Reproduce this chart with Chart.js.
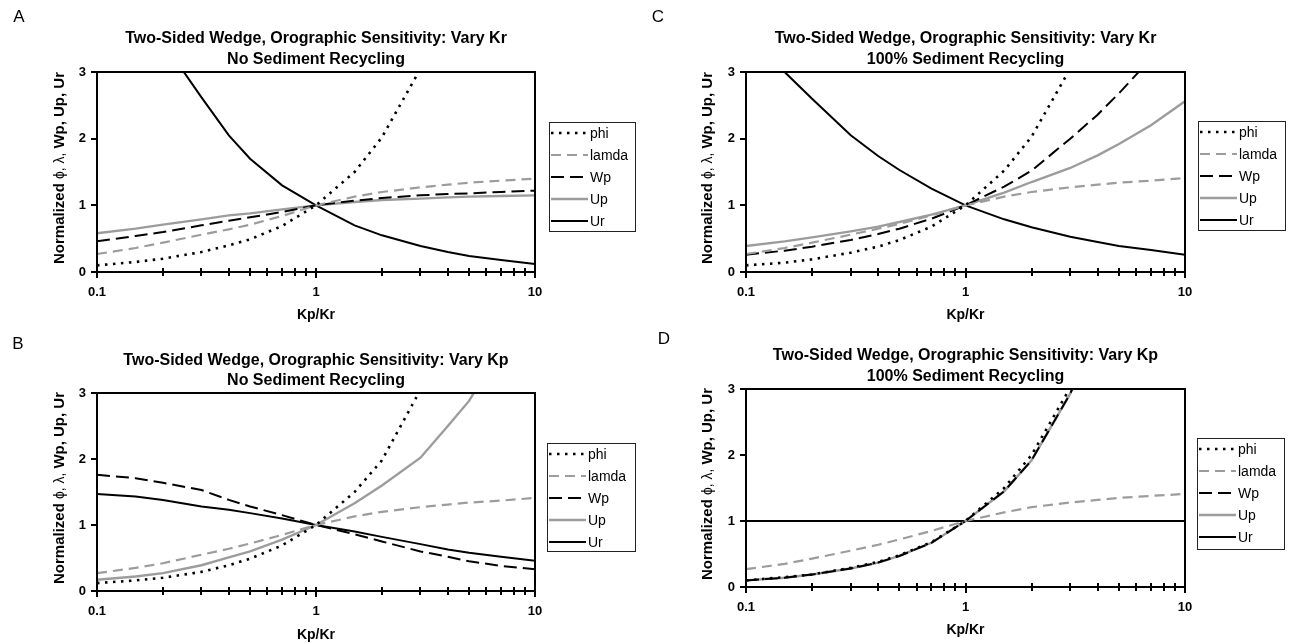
<!DOCTYPE html>
<html>
<head>
<meta charset="utf-8">
<script src="https://cdn.jsdelivr.net/npm/chart.js@4.4.1/dist/chart.umd.min.js"></script>
<style>
  html, body { margin: 0; padding: 0; background: #fff; }
  #wrap { position: relative; width: 1291px; height: 644px; }
  #wrap canvas { position: absolute; left: 0; top: 0; }
</style>
</head>
<body>
<div id="wrap">
  <canvas id="chartA" width="1291" height="644"></canvas>
  <canvas id="chartB" width="1291" height="644"></canvas>
  <canvas id="chartC" width="1291" height="644"></canvas>
  <canvas id="chartD" width="1291" height="644"></canvas>
</div>
<script>
// Kp/Kr sample points shared by every panel
const kpkr = [0.1, 0.15, 0.2, 0.3, 0.4, 0.5, 0.7, 1, 1.5, 2, 3, 4, 5, 7, 10];

// axis ticks
const xTicks = [0.1, 0.2, 0.3, 0.4, 0.5, 0.6, 0.7, 0.8, 0.9, 1, 2, 3, 4, 5, 6, 7, 8, 9, 10];
const xLabels = [0.1, 1, 10];
const yTicks = [0, 1, 2, 3];

const seriesNames = ['phi', 'lamda', 'Wp', 'Up', 'Ur'];

// A: vary Kr, no sediment recycling
const phiA = [0.10, 0.15, 0.20, 0.30, 0.40, 0.49, 0.69, 1.00, 1.50, 2.02, 3.05, 4.1, 5.1, 7.1, 10.2];
const lamA = [0.27, 0.36, 0.44, 0.56, 0.64, 0.71, 0.84, 1.00, 1.13, 1.20, 1.27, 1.31, 1.34, 1.37, 1.40];
const wpA  = [0.46, 0.54, 0.60, 0.70, 0.77, 0.82, 0.90, 1.00, 1.07, 1.11, 1.15, 1.17, 1.18, 1.20, 1.22];
const upA  = [0.58, 0.65, 0.71, 0.79, 0.85, 0.88, 0.94, 1.00, 1.05, 1.08, 1.10, 1.12, 1.13, 1.14, 1.15];
const urA  = [5.6, 4.2, 3.45, 2.62, 2.05, 1.70, 1.30, 1.00, 0.70, 0.55, 0.39, 0.30, 0.24, 0.18, 0.12];

// B: vary Kp, no sediment recycling
const phiB = [0.12, 0.16, 0.20, 0.29, 0.39, 0.49, 0.69, 1.00, 1.50, 1.98, 3.05, 4.1, 5.1, 7.1, 10.2];
const lamB = [0.27, 0.35, 0.42, 0.55, 0.64, 0.72, 0.85, 1.00, 1.13, 1.20, 1.27, 1.31, 1.34, 1.37, 1.41];
const wpB  = [1.76, 1.71, 1.64, 1.53, 1.38, 1.28, 1.15, 1.00, 0.86, 0.75, 0.60, 0.52, 0.45, 0.38, 0.33];
const upB  = [0.17, 0.22, 0.27, 0.39, 0.51, 0.60, 0.78, 1.00, 1.33, 1.60, 2.02, 2.50, 2.88, 3.7, 4.9];
const urB  = [1.47, 1.43, 1.38, 1.28, 1.23, 1.18, 1.10, 1.00, 0.90, 0.82, 0.71, 0.63, 0.58, 0.52, 0.46];

// C: vary Kr, 100% sediment recycling
const phiC = [0.10, 0.14, 0.19, 0.29, 0.38, 0.48, 0.68, 1.00, 1.52, 2.03, 3.05, 4.1, 5.1, 7.1, 10.2];
const lamC = [0.27, 0.36, 0.44, 0.56, 0.65, 0.72, 0.85, 1.00, 1.13, 1.20, 1.27, 1.31, 1.34, 1.37, 1.41];
const wpC  = [0.26, 0.32, 0.38, 0.48, 0.57, 0.65, 0.80, 1.00, 1.28, 1.52, 2.00, 2.36, 2.68, 3.2, 4.0];
const upC  = [0.39, 0.46, 0.52, 0.61, 0.68, 0.75, 0.86, 1.00, 1.19, 1.35, 1.56, 1.75, 1.92, 2.20, 2.56];
const urC  = [3.9, 3.0, 2.6, 2.05, 1.74, 1.53, 1.25, 1.00, 0.79, 0.67, 0.53, 0.45, 0.39, 0.33, 0.26];

// D: vary Kp, 100% sediment recycling
const phiD = [0.10, 0.15, 0.19, 0.29, 0.38, 0.48, 0.68, 1.00, 1.50, 2.00, 3.02, 4.0, 5.0, 7.0, 10.0];
const lamD = [0.27, 0.35, 0.43, 0.55, 0.64, 0.72, 0.85, 1.00, 1.13, 1.21, 1.28, 1.32, 1.35, 1.38, 1.41];
const wpD  = [0.10, 0.14, 0.19, 0.28, 0.37, 0.47, 0.67, 1.00, 1.45, 1.92, 2.93, 3.9, 4.9, 6.9, 9.8];
const upD  = [0.10, 0.14, 0.19, 0.28, 0.37, 0.47, 0.67, 1.00, 1.45, 1.92, 2.93, 3.9, 4.9, 6.9, 9.8];
const urD  = [1, 1, 1, 1, 1, 1, 1, 1, 1, 1, 1, 1, 1, 1, 1];

const FONT = '"Liberation Sans", Arial, sans-serif';
const GREY = '#9c9c9c';

// line looks, in series order
const looks = [
  { color: '#000', width: 2.6, dash: [2.5, 5.5] },
  { color: GREY,   width: 2.2, dash: [10, 6] },
  { color: '#000', width: 2,   dash: [13, 6] },
  { color: GREY,   width: 2.4, dash: [] },
  { color: '#000', width: 2,   dash: [] }
];

// frame, tick marks, titles and the boxed legend
const decor = {
  id: 'decor',
  afterDatasetsDraw(chart, args, o) {
    const { ctx, chartArea: a } = chart;
    const xs = chart.scales.x, ys = chart.scales.y;
    ctx.save();
    ctx.setLineDash([]);
    ctx.strokeStyle = '#000';
    ctx.lineWidth = 2;
    ctx.strokeRect(a.left, a.top, a.right - a.left, a.bottom - a.top);

    ctx.beginPath();
    xTicks.forEach(v => {
      const px = Math.round(xs.getPixelForValue(v));
      ctx.moveTo(px, a.bottom - 4);
      ctx.lineTo(px, a.bottom + (xLabels.includes(v) ? 6 : 4));
    });
    yTicks.forEach(v => {
      const py = Math.round(ys.getPixelForValue(v));
      ctx.moveTo(a.left - 6, py);
      ctx.lineTo(a.left, py);
    });
    ctx.stroke();

    const cx = (a.left + a.right) / 2;
    ctx.fillStyle = '#000';
    ctx.textAlign = 'center';
    ctx.textBaseline = 'middle';
    ctx.font = 'bold 16px ' + FONT;
    ctx.fillText(o.title[0], cx, o.titleY[0]);
    ctx.fillText(o.title[1], cx, o.titleY[1]);
    ctx.font = 'bold 14px ' + FONT;
    ctx.fillText('Kp/Kr', cx, o.xTitleY);
    ctx.font = '17px ' + FONT;
    ctx.fillText(o.letter, o.letterX, o.letterY);

    // rotated y title, greek letters in plain weight
    const parts = [['bold 15px ', 'Normalized '], ['14px ', '\u03D5, \u03BB, '], ['bold 15px ', 'Wp, Up, Ur']];
    ctx.save();
    ctx.translate(o.yTitleX, (a.top + a.bottom) / 2 - 4);
    ctx.rotate(-Math.PI / 2);
    ctx.textAlign = 'left';
    let total = 0;
    parts.forEach(p => { ctx.font = p[0] + FONT; total += ctx.measureText(p[1]).width; });
    let pos = -total / 2;
    parts.forEach(p => {
      ctx.font = p[0] + FONT;
      ctx.fillText(p[1], pos, 0);
      pos += ctx.measureText(p[1]).width;
    });
    ctx.restore();

    // legend
    const L = o.legend;
    ctx.lineWidth = 1;
    ctx.strokeStyle = '#222';
    ctx.fillStyle = '#fff';
    ctx.fillRect(L.x, L.y, L.w, L.h);
    ctx.strokeRect(L.x + 0.5, L.y + 0.5, L.w, L.h);
    ctx.font = '14px ' + FONT;
    ctx.textAlign = 'left';
    chart.data.datasets.forEach((ds, i) => {
      const y = L.y + 11 + i * 22;
      ctx.beginPath();
      ctx.strokeStyle = ds.borderColor;
      ctx.lineWidth = ds.borderWidth;
      ctx.setLineDash(ds.borderDash);
      ctx.moveTo(L.x + 2, y);
      ctx.lineTo(L.x + 39, y);
      ctx.stroke();
      ctx.setLineDash([]);
      ctx.fillStyle = '#000';
      ctx.fillText(ds.label, L.x + 41, y + 1);
    });
    ctx.restore();
  }
};

function makePanel(id, series, area, deco) {
  const datasets = series.map((vals, i) => ({
    label: seriesNames[i],
    data: kpkr.map((x, j) => ({ x: x, y: vals[j] })),
    borderColor: looks[i].color,
    borderWidth: looks[i].width,
    borderDash: looks[i].dash,
    pointRadius: 0,
    tension: 0,
    fill: false
  }));
  const tickFont = { family: FONT, size: 13, weight: 'bold' };
  new Chart(document.getElementById(id), {
    type: 'line',
    data: { datasets: datasets },
    options: {
      responsive: false,
      animation: false,
      layout: { padding: { top: area.t, right: 1291 - area.r, bottom: 0, left: 0 } },
      plugins: { legend: { display: false }, tooltip: { enabled: false }, decor: deco },
      scales: {
        x: {
          type: 'logarithmic',
          min: 0.1, max: 10,
          afterBuildTicks: s => { s.ticks = xTicks.map(v => ({ value: v })); },
          afterFit: s => { s.height = 644 - area.b; },
          grid: { display: false, drawTicks: false },
          border: { display: false },
          ticks: {
            autoSkip: false, maxRotation: 0, minRotation: 0,
            padding: 13, color: '#000', font: tickFont,
            callback: v => xLabels.includes(v) ? String(v) : ''
          }
        },
        y: {
          min: 0, max: 3,
          afterBuildTicks: s => { s.ticks = yTicks.map(v => ({ value: v })); },
          afterFit: s => { s.width = area.l; },
          grid: { display: false, drawTicks: false },
          border: { display: false },
          ticks: { padding: 11, color: '#000', font: tickFont }
        }
      }
    },
    plugins: [decor]
  });
}

makePanel('chartA', [phiA, lamA, wpA, upA, urA], { l: 97, t: 72, r: 535, b: 272 }, {
  title: ['Two-Sided Wedge, Orographic Sensitivity: Vary Kr', 'No Sediment Recycling'],
  titleY: [39, 60], xTitleY: 315, letter: 'A', letterX: 19, letterY: 17, yTitleX: 60,
  legend: { x: 549, y: 122, w: 86, h: 109 }
});
makePanel('chartB', [phiB, lamB, wpB, upB, urB], { l: 97, t: 393, r: 535, b: 591 }, {
  title: ['Two-Sided Wedge, Orographic Sensitivity: Vary Kp', 'No Sediment Recycling'],
  titleY: [361, 381], xTitleY: 635, letter: 'B', letterX: 18, letterY: 344, yTitleX: 60,
  legend: { x: 547, y: 443, w: 88, h: 108 }
});
makePanel('chartC', [phiC, lamC, wpC, upC, urC], { l: 746, t: 72, r: 1185, b: 272 }, {
  title: ['Two-Sided Wedge, Orographic Sensitivity: Vary Kr', '100% Sediment Recycling'],
  titleY: [39, 60], xTitleY: 315, letter: 'C', letterX: 658, letterY: 17, yTitleX: 708,
  legend: { x: 1198, y: 121, w: 87, h: 109 }
});
makePanel('chartD', [phiD, lamD, wpD, upD, urD], { l: 746, t: 389, r: 1185, b: 587 }, {
  title: ['Two-Sided Wedge, Orographic Sensitivity: Vary Kp', '100% Sediment Recycling'],
  titleY: [356, 377], xTitleY: 630, letter: 'D', letterX: 664, letterY: 339, yTitleX: 708,
  legend: { x: 1197, y: 438, w: 87, h: 111 }
});
</script>
</body>
</html>
